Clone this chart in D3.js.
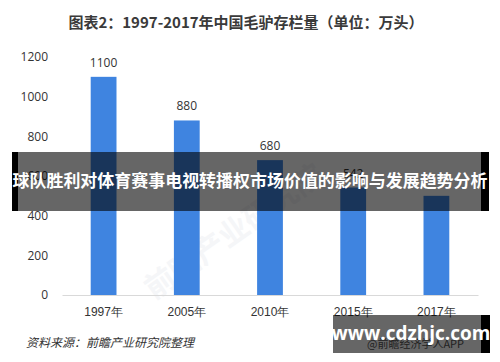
<!DOCTYPE html>
<html><head><meta charset="utf-8">
<script src="https://cdn.jsdelivr.net/npm/d3@7"></script>
<style>
html,body{margin:0;padding:0;background:#fff;}
svg{display:block;font-family:"Noto Sans CJK SC","Open Sans",sans-serif;}
</style></head>
<body>
<script>
const categories = ["1997年","2005年","2010年","2015年","2017年"];
const values = [1100, 880, 680, 542, 500];
const valueLabels = ["1100","880","680","542",""];
const yTicks = [0,200,400,600,800,1000,1200];
const titleText = "图表2：1997-2017年中国毛驴存栏量（单位：万头）";
const bannerText = "球队胜利对体育赛事电视转播权市场价值的影响与发展趋势分析";
const sourceText = "资料来源：前瞻产业研究院整理";
const siteText = "www.cdzhjc.com";

const W = 500, H = 362;
const svg = d3.select("body").append("svg").attr("width", W).attr("height", H);

const x = d3.scaleBand().domain(categories).range([62, 478]).paddingInner(0.69).paddingOuter(0.345);
const y = d3.scaleLinear().domain([0, 1200]).range([295, 57]);

// faint watermark
svg.append("text").attr("x", 240).attr("y", 240).attr("transform", "rotate(-35,240,240)")
  .attr("text-anchor", "middle").attr("font-size", 30).attr("font-weight", "bold")
  .attr("fill", "#f5f6f8").text("前瞻产业研究院");

// title
svg.append("text").attr("x", 246).attr("y", 28).attr("text-anchor", "middle")
  .attr("font-size", 15).attr("font-weight", "bold").attr("fill", "#3a3a3a").text(titleText);

// y axis labels
const yAxis = d3.axisLeft(y).tickValues(yTicks).tickSize(0).tickPadding(0).tickFormat(d3.format("d"));
const gy = svg.append("g").attr("transform", "translate(48,0)").call(yAxis);
gy.select(".domain").remove();
gy.selectAll("text").attr("font-size", 12).attr("fill", "#333").attr("font-family", "'Open Sans','Noto Sans',sans-serif");

// bars
svg.append("g").selectAll("rect").data(values).join("rect")
  .attr("x", (d,i) => x(categories[i])).attr("width", x.bandwidth())
  .attr("y", d => y(d)).attr("height", d => y(0) - y(d))
  .attr("fill", "#3f84e0");

// baseline
const xAxis = d3.axisBottom(x).tickSize(0).tickPadding(10);
const gx = svg.append("g").attr("transform", `translate(0,${y(0)})`).call(xAxis);
gx.select(".domain").attr("stroke", "#d9d9d9");
gx.selectAll("text").attr("font-size", 12).attr("fill", "#333").attr("dy", "0.9em");

// value labels
svg.append("g").selectAll("text").data(values).join("text")
  .attr("x", (d,i) => x(categories[i]) + x.bandwidth()/2)
  .attr("y", d => y(d) - 10).attr("text-anchor", "middle")
  .attr("font-size", 12).attr("fill", "#333").attr("font-family", "'Open Sans','Noto Sans',sans-serif")
  .text((d,i) => valueLabels[i]);

// source
svg.append("text").attr("x", 26).attr("y", 347).attr("font-size", 12).attr("font-style", "italic")
  .attr("fill", "#333").text(sourceText);
svg.append("text").attr("x", 367).attr("y", 348).attr("font-size", 11).attr("fill", "#555").text("@前瞻经济学人APP");

// banner
svg.append("rect").attr("x", 12).attr("y", 152).attr("width", 6).attr("height", 59).attr("fill", "#000");
svg.append("rect").attr("x", 481).attr("y", 152).attr("width", 8).attr("height", 59).attr("fill", "#000");
svg.append("rect").attr("x", 18).attr("y", 152).attr("width", 463).attr("height", 59).attr("fill", "#000").attr("fill-opacity", 0.6);
svg.append("text").attr("x", 250).attr("y", 187).attr("text-anchor", "middle")
  .attr("font-size", 17).attr("font-weight", "bold").attr("fill", "#fff")
  .attr("textLength", 475).attr("lengthAdjust", "spacingAndGlyphs").text(bannerText);

// site box
svg.append("rect").attr("x", 481).attr("y", 315).attr("width", 9).attr("height", 38).attr("fill", "#000");
svg.append("rect").attr("x", 333).attr("y", 315).attr("width", 148).attr("height", 38).attr("fill", "#000").attr("fill-opacity", 0.6);
svg.append("text").attr("x", 411).attr("y", 340).attr("text-anchor", "middle")
  .attr("font-size", 19).attr("font-weight", "bold").attr("fill", "#fff")
  .attr("font-family", "'Open Sans','Noto Sans',sans-serif").text(siteText);
</script>
</body></html>
